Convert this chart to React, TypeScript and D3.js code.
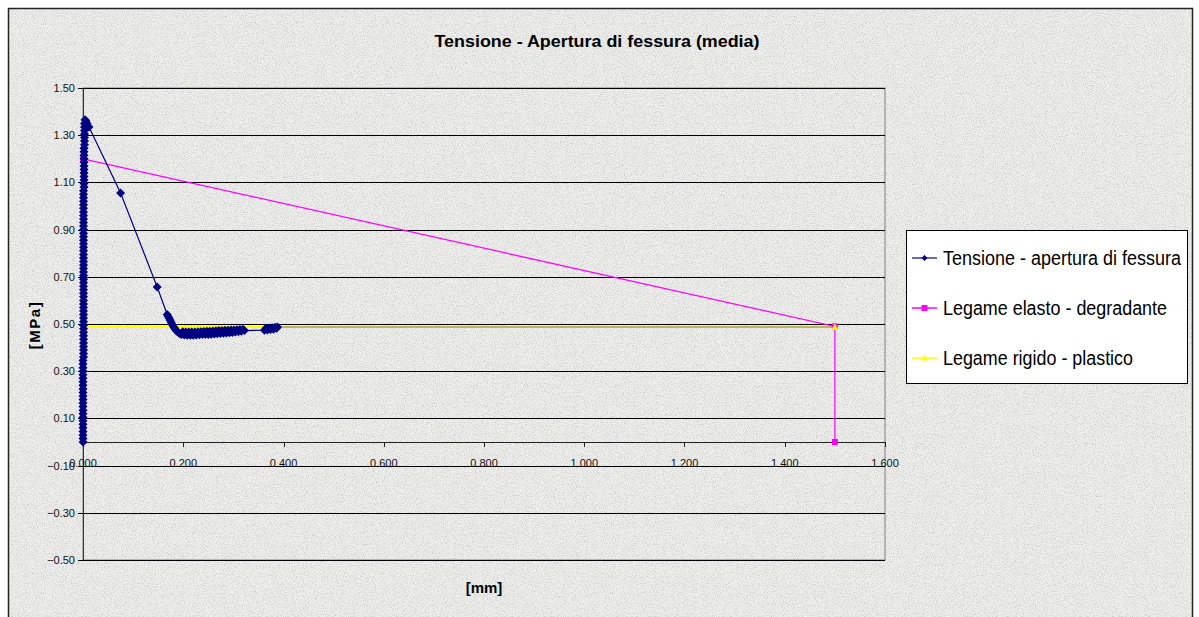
import React from 'react';
import * as d3 from 'd3';

// Tensione - apertura di fessura: [mm, MPa]
const preloadBranch: [number, number][] = [
  [0.000, 0.000], [0.000, 0.015], [0.000, 0.030], [0.000, 0.045], [0.000, 0.060], [0.000, 0.075],
  [0.000, 0.090], [0.000, 0.105], [0.000, 0.120], [0.000, 0.135], [0.000, 0.150], [0.000, 0.165],
  [0.000, 0.180], [0.000, 0.195], [0.000, 0.210], [0.000, 0.225], [0.000, 0.240], [0.000, 0.255],
  [0.000, 0.270], [0.000, 0.285], [0.000, 0.300], [0.000, 0.315], [0.000, 0.330], [0.000, 0.345],
  [0.001, 0.360], [0.001, 0.375], [0.001, 0.390], [0.001, 0.405], [0.001, 0.420], [0.001, 0.435],
  [0.001, 0.450], [0.001, 0.465], [0.001, 0.480], [0.001, 0.495], [0.001, 0.510], [0.001, 0.525],
  [0.001, 0.540], [0.001, 0.555], [0.001, 0.570], [0.001, 0.585], [0.001, 0.600], [0.001, 0.615],
  [0.001, 0.630], [0.001, 0.645], [0.001, 0.660], [0.001, 0.675], [0.001, 0.690], [0.001, 0.705],
  [0.001, 0.720], [0.001, 0.735], [0.001, 0.750], [0.001, 0.765], [0.001, 0.780], [0.001, 0.795],
  [0.001, 0.810], [0.001, 0.825], [0.001, 0.840], [0.001, 0.855], [0.001, 0.870], [0.001, 0.885],
  [0.001, 0.900], [0.001, 0.915], [0.001, 0.930], [0.001, 0.945], [0.001, 0.960], [0.001, 0.975],
  [0.001, 0.990], [0.001, 1.005], [0.001, 1.020], [0.001, 1.035], [0.001, 1.050], [0.001, 1.065],
  [0.002, 1.080], [0.002, 1.095], [0.002, 1.110], [0.002, 1.125], [0.002, 1.140], [0.002, 1.155],
  [0.002, 1.170], [0.002, 1.185], [0.002, 1.200], [0.002, 1.215], [0.002, 1.230], [0.002, 1.245],
  [0.003, 1.260], [0.003, 1.275], [0.003, 1.290], [0.003, 1.305], [0.003, 1.320], [0.003, 1.335],
  [0.003, 1.350],
];
const softeningBranch: [number, number][] = [
  [0.004, 1.365], [0.006, 1.360], [0.008, 1.350], [0.012, 1.335],
  [0.075, 1.055], [0.148, 0.657],
  [0.168, 0.540], [0.170, 0.532], [0.172, 0.524], [0.174, 0.516], [0.176, 0.506],
  [0.178, 0.498], [0.180, 0.490], [0.182, 0.484], [0.184, 0.478], [0.186, 0.472],
  [0.188, 0.468], [0.190, 0.464], [0.193, 0.460],
  [0.196, 0.455], [0.199, 0.467], [0.202, 0.453], [0.205, 0.466], [0.208, 0.452],
  [0.211, 0.466], [0.214, 0.452], [0.217, 0.466], [0.220, 0.452], [0.223, 0.466],
  [0.226, 0.453], [0.229, 0.467], [0.232, 0.454], [0.235, 0.467], [0.238, 0.455],
  [0.241, 0.468], [0.244, 0.455], [0.247, 0.469], [0.250, 0.456], [0.253, 0.469],
  [0.256, 0.457], [0.259, 0.470], [0.262, 0.458], [0.265, 0.471], [0.268, 0.459],
  [0.271, 0.472], [0.274, 0.460], [0.277, 0.472], [0.280, 0.461], [0.283, 0.473],
  [0.286, 0.462], [0.289, 0.474], [0.292, 0.463], [0.295, 0.475], [0.298, 0.464],
  [0.301, 0.475], [0.304, 0.466], [0.307, 0.476], [0.310, 0.467], [0.313, 0.477],
  [0.316, 0.469], [0.319, 0.478], [0.322, 0.472],
  [0.362, 0.474], [0.365, 0.482], [0.368, 0.475], [0.371, 0.483], [0.374, 0.477],
  [0.377, 0.484], [0.380, 0.478], [0.383, 0.486], [0.386, 0.482], [0.388, 0.487],
];
const tensionData = [...preloadBranch, ...softeningBranch];

const elastoDegradante: [number, number][] = [[0, 1.2], [1.5, 0.49], [1.5, 0.0]];
const rigidoPlastico: [number, number][] = [[0, 0.487], [1.5, 0.487]];

const yTicks = [-0.5, -0.3, -0.1, 0.1, 0.3, 0.5, 0.7, 0.9, 1.1, 1.3, 1.5];
const xTicks = [0, 0.2, 0.4, 0.6, 0.8, 1.0, 1.2, 1.4, 1.6];

const seriesNames = ['Tensione - apertura di fessura', 'Legame elasto - degradante', 'Legame rigido - plastico'];
const legendWidths = [238, 224, 190];

const W = 1199;
const H = 617;
const plot = { left: 83, right: 885, top: 88, bottom: 560 };

const NAVY = '#000080';
const MAGENTA = '#ff00ff';
const YELLOW = '#ffff00';
const FONT = '"Liberation Sans", Arial, sans-serif';

const diamond = (r: number) => `M0,${-r}L${r},0L0,${r}L${-r},0Z`;
const square = (r: number) => `M${-r},${-r}H${r}V${r}H${-r}Z`;
const triangle = (r: number) => `M0,${-r}L${r},${r * 0.8}L${-r},${r * 0.8}Z`;

export default function App() {
  const x = d3.scaleLinear().domain([0, 1.6]).range([plot.left, plot.right]);
  const y = d3.scaleLinear().domain([-0.5, 1.5]).range([plot.bottom, plot.top]);
  const line = d3.line<[number, number]>().x(d => x(d[0])).y(d => y(d[1]));
  const fmtY = d3.format('.2f');
  const fmtX = (v: number) => d3.format(',.3f')(v);
  const lastTension = tensionData[tensionData.length - 1][0];
  const yellowSplit = lastTension / 1.5;

  const legendX = 906;
  const legendRows = [258, 308, 358];

  return (
    <svg width={W} height={H} style={{ position: 'absolute', left: 0, top: 0 }}>
      <defs>
        <filter id="grain" x="0" y="0" width="100%" height="100%">
          <feTurbulence type="fractalNoise" baseFrequency="0.9" numOctaves="3" seed="7" />
          <feColorMatrix type="matrix" values="0 0 0 0 0.4  0 0 0 0 0.4  0 0 0 0 0.4  2.2 0 0 0 -0.95" />
        </filter>
        <linearGradient id="yl" gradientUnits="userSpaceOnUse" x1={x(0)} x2={x(1.5)} y1={0} y2={0}>
          <stop offset={0} stopColor={YELLOW} />
          <stop offset={yellowSplit} stopColor={YELLOW} />
          <stop offset={yellowSplit} stopColor="#bdb75c" />
          <stop offset={1} stopColor="#bdb75c" />
        </linearGradient>
      </defs>

      <rect x={8} y={8} width={1184} height={620} fill="#efefee" />
      <rect x={8} y={8} width={1184} height={620} filter="url(#grain)" opacity={0.6} />
      <rect x={8.5} y={8.5} width={1184} height={620} fill="none" stroke="#222" strokeWidth={1.5} />

      <text x={597} y={47} textAnchor="middle" fontFamily={FONT} fontWeight="bold" fontSize={17}
        textLength={325} lengthAdjust="spacingAndGlyphs" fill="#000">
        Tensione - Apertura di fessura (media)
      </text>

      {/* plot area border */}
      <rect x={plot.left} y={plot.top} width={plot.right - plot.left} height={plot.bottom - plot.top}
        fill="none" stroke="#808080" strokeWidth={1} />

      {yTicks.map(t => (
        <g key={t}>
          <line x1={plot.left} x2={plot.right} y1={Math.round(y(t)) + 0.5} y2={Math.round(y(t)) + 0.5} stroke="#000" strokeWidth={1} />
          <line x1={plot.left - 5} x2={plot.left} y1={Math.round(y(t)) + 0.5} y2={Math.round(y(t)) + 0.5} stroke="#000" />
          <text x={75} y={y(t) + 4} textAnchor="end" fontFamily={FONT} fontSize={11} fill="#111">{fmtY(t)}</text>
        </g>
      ))}
      <line x1={plot.left + 0.5} x2={plot.left + 0.5} y1={plot.top} y2={plot.bottom} stroke="#333" />

      {/* x axis at zero */}
      <line x1={plot.left} x2={plot.right} y1={Math.round(y(0)) + 0.5} y2={Math.round(y(0)) + 0.5} stroke="#222" />
      {xTicks.map(t => (
        <g key={t}>
          <line x1={Math.round(x(t)) + 0.5} x2={Math.round(x(t)) + 0.5} y1={y(0)} y2={y(0) + 5} stroke="#222" />
          <text x={x(t)} y={y(0) + 25} textAnchor="middle" fontFamily={FONT} fontSize={11} fill="#111">{fmtX(t)}</text>
        </g>
      ))}

      <text transform={`translate(40,${325}) rotate(-90)`} textAnchor="middle" fontFamily={FONT}
        fontWeight="bold" fontSize={15} letterSpacing={1.5} fill="#000">[MPa]</text>
      <text x={484} y={593} textAnchor="middle" fontFamily={FONT} fontWeight="bold" fontSize={15} fill="#000">[mm]</text>

      {/* Legame rigido - plastico */}
      <path d={line(rigidoPlastico) ?? ''} fill="none" stroke="url(#yl)" strokeWidth={2} />
      {/* Legame elasto - degradante */}
      <path d={line(elastoDegradante) ?? ''} fill="none" stroke={MAGENTA} strokeWidth={1.2} />
      {elastoDegradante.map((d, i) => (
        <path key={i} d={square(3)} transform={`translate(${x(d[0])},${y(d[1])})`} fill={MAGENTA} />
      ))}
      {rigidoPlastico.map((d, i) => (
        <path key={i} d={triangle(3.5)} transform={`translate(${x(d[0])},${y(d[1])})`} fill={YELLOW} />
      ))}

      {/* Tensione - apertura di fessura */}
      <path d={line(tensionData) ?? ''} fill="none" stroke={NAVY} strokeWidth={1.2} />
      {tensionData.map((d, i) => (
        <path key={i} d={diamond(4.5)} transform={`translate(${x(d[0])},${y(d[1])})`} fill={NAVY} />
      ))}

      {/* legend */}
      <rect x={legendX + 0.5} y={230.5} width={281} height={153} fill="#fff" stroke="#000" strokeWidth={1} />
      {seriesNames.map((name, i) => {
        const cy = legendRows[i];
        const col = [NAVY, MAGENTA, YELLOW][i];
        const mark = [diamond(3), square(3), triangle(3.2)][i];
        return (
          <g key={name}>
            <line x1={912} x2={937} y1={cy} y2={cy} stroke={i === 0 ? '#3a3a9a' : col} strokeWidth={1.5} />
            <path d={mark} transform={`translate(924.5,${cy})`} fill={col} />
            <text x={943} y={cy + 7} fontFamily={FONT} fontSize={20} textLength={legendWidths[i]}
              lengthAdjust="spacingAndGlyphs" fill="#000">{name}</text>
          </g>
        );
      })}
    </svg>
  );
}
